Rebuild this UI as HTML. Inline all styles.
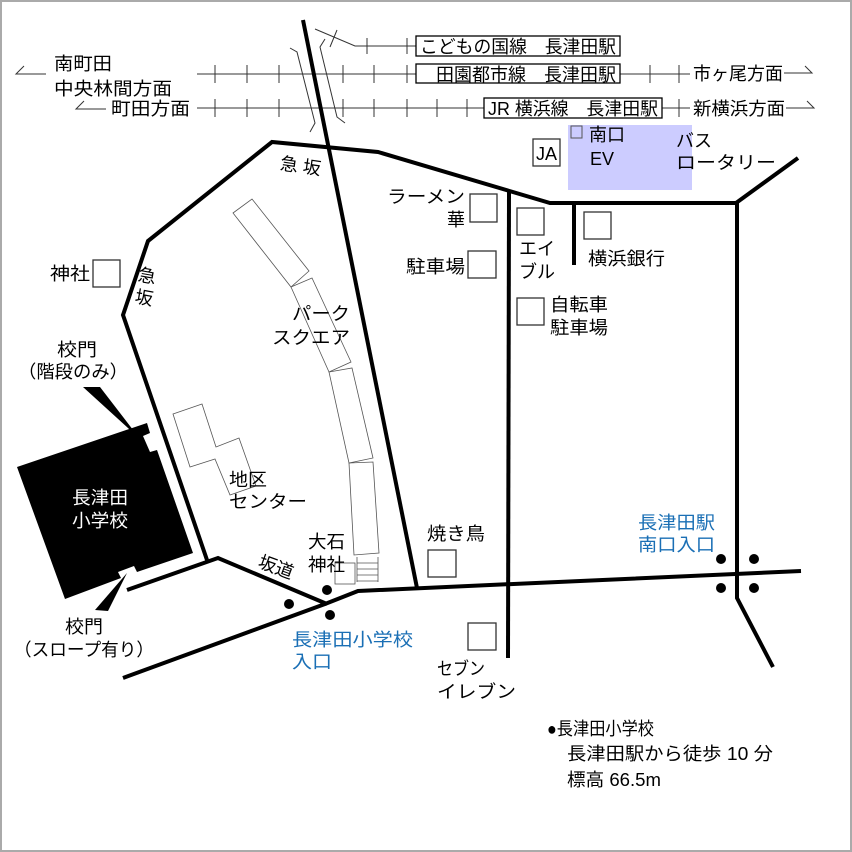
<!DOCTYPE html>
<html><head><meta charset="utf-8"><style>
html,body{margin:0;padding:0;background:#fff}
svg{display:block}
text{font-family:"Liberation Sans","Noto Sans CJK JP",sans-serif;font-size:18px;fill:#000}
.b{fill:#1a6fb5}
</style></head><body>
<svg width="852" height="852" viewBox="0 0 852 852" xmlns="http://www.w3.org/2000/svg">
<rect x="1" y="1" width="850" height="850" fill="#fff" stroke="#aaa" stroke-width="2"/>
<rect x="568" y="125" width="124" height="65" fill="#ccccff"/>
<rect x="571" y="126" width="11" height="12" fill="none" stroke="#555" stroke-width="1"/>

<g stroke="#333" stroke-width="1" fill="none">
<polyline points="315,29 355,46 416,46"/>
<line x1="197" y1="74" x2="416" y2="74"/>
<line x1="620" y1="74" x2="690" y2="74"/>
<line x1="197" y1="108" x2="484" y2="108"/>
<line x1="662" y1="108" x2="690" y2="108"/>
<path d="M367 38V54M407 38V54M337 30L330 47"/>
<path d="M215 65V83M247 65V83M279 65V83M343 65V83M374 65V83M407 65V83M650 65V83M679 65V83"/>
<path d="M215 99V117M247 99V117M279 99V117M343 99V117M374 99V117M407 99V117M437 99V117M467 99V117M679 99V117"/>
<polyline points="24,66 16,74 46,74"/>
<polyline points="84,101 76,109 106,109"/>
<polyline points="784,73 812,73 805,66"/>
<polyline points="786,108 814,108 807,101"/>
<polyline points="290,48 297,52 315,123 310,132"/>
<polyline points="325,39 320,47 337,117 345,123"/>
</g>
<g fill="#fff" stroke="#000" stroke-width="1.3">
<rect x="416" y="36" width="204" height="20"/>
<rect x="416" y="64" width="204" height="19"/>
<rect x="484" y="98" width="178" height="20"/>
</g>

<g fill="none" stroke="#555" stroke-width="0.8">
<polygon points="233,213 252,199 309,271 291,287"/>
<polygon points="291,287 312,278 351,362 329,372"/>
<polygon points="329,372 352,368 373,458 349,463"/>
<polygon points="349,463 373,462 379,553 354,555"/>
<path d="M357 557V582M378 557V582M357 563H378M357 569H378M357 575H378M357 581H378"/>
<polygon points="173,414 202,404 216,447 239,438 256,486 230,495 215,459 190,467"/>
<rect x="335" y="563" width="20" height="21"/>
</g>

<g fill="none" stroke="#000" stroke-width="4" stroke-linejoin="miter">
<line x1="303" y1="20" x2="417" y2="588"/>
<polyline points="207,560 123,315 148,241 272,142 378,152 550,203 736,203 798,158"/>
<polyline points="737,203 737,598 773,667"/>
<line x1="509" y1="192" x2="508" y2="658"/>
<line x1="574" y1="203" x2="574" y2="265"/>
<polyline points="127,590 218,558 327,604"/>
<polyline points="123,678 325,604 358,591 801,571"/>
</g>

<polygon points="17,467 147,423 150,433 143,436 150,452 157,450 193,553 137,572 134,566 118,572 121,578 65,599" fill="#000"/>
<polygon points="83,387 100,387 140,439" fill="#000"/>
<polygon points="95,610 108,611 127,573" fill="#000"/>

<g fill="#000">
<circle cx="289" cy="604" r="5"/><circle cx="327" cy="590" r="5"/><circle cx="330" cy="615" r="5"/>
<circle cx="721" cy="559" r="5"/><circle cx="754" cy="559" r="5"/><circle cx="721" cy="588" r="5"/><circle cx="754" cy="588" r="5"/>
</g>

<g fill="#fff" stroke="#333" stroke-width="1.3">
<rect x="93" y="260" width="27" height="27"/>
<rect x="470" y="194" width="27" height="28"/>
<rect x="468" y="251" width="28" height="27"/>
<rect x="517" y="208" width="27" height="27"/>
<rect x="584" y="212" width="27" height="27"/>
<rect x="517" y="298" width="27" height="27"/>
<rect x="533" y="139" width="27" height="27"/>
<rect x="428" y="550" width="28" height="27"/>
<rect x="468" y="623" width="28" height="27"/>
</g>

<text x="420" y="53" textLength="196" lengthAdjust="spacingAndGlyphs">こどもの国線　長津田駅</text>
<text x="436" y="81" textLength="180" lengthAdjust="spacingAndGlyphs">田園都市線　長津田駅</text>
<text x="488" y="115" textLength="170" lengthAdjust="spacingAndGlyphs">JR 横浜線　長津田駅</text>
<text x="54" y="70" textLength="58" lengthAdjust="spacingAndGlyphs">南町田</text>
<text x="54" y="95" textLength="118" lengthAdjust="spacingAndGlyphs">中央林間方面</text>
<text x="111" y="115" textLength="79" lengthAdjust="spacingAndGlyphs">町田方面</text>
<text x="693" y="80" textLength="90" lengthAdjust="spacingAndGlyphs">市ヶ尾方面</text>
<text x="693" y="115" textLength="92" lengthAdjust="spacingAndGlyphs">新横浜方面</text>
<text x="536" y="160" font-size="16">JA</text>
<text x="589" y="141">南口</text>
<text x="590" y="165">EV</text>
<text x="676" y="147">バス</text>
<text x="676" y="169" textLength="100" lengthAdjust="spacingAndGlyphs">ロータリー</text>
<text x="280" y="172" font-size="16" transform="rotate(8 298 166)">急 坂</text>
<text x="138" y="282" font-size="16" transform="rotate(10 146 276)">急</text>
<text x="135" y="304" font-size="16" transform="rotate(10 143 298)">坂</text>
<text x="50" y="280" textLength="40" lengthAdjust="spacingAndGlyphs">神社</text>
<text x="57" y="356" textLength="40" lengthAdjust="spacingAndGlyphs">校門</text>
<text x="18" y="378" textLength="110" lengthAdjust="spacingAndGlyphs">（階段のみ）</text>
<text x="72" y="504" style="fill:#fff" textLength="56" lengthAdjust="spacingAndGlyphs">長津田</text>
<text x="72" y="527" style="fill:#fff" textLength="56" lengthAdjust="spacingAndGlyphs">小学校</text>
<text x="65" y="633" textLength="38" lengthAdjust="spacingAndGlyphs">校門</text>
<text x="14" y="656" textLength="140" lengthAdjust="spacingAndGlyphs">（スロープ有り）</text>
<text x="292" y="320" textLength="58" lengthAdjust="spacingAndGlyphs">パーク</text>
<text x="272" y="344" textLength="78" lengthAdjust="spacingAndGlyphs">スクエア</text>
<text x="229" y="486" textLength="38" lengthAdjust="spacingAndGlyphs">地区</text>
<text x="229" y="508" textLength="78" lengthAdjust="spacingAndGlyphs">センター</text>
<text x="258" y="573" font-size="16" transform="rotate(20 275 567)">坂道</text>
<text x="308" y="548" textLength="37" lengthAdjust="spacingAndGlyphs">大石</text>
<text x="308" y="571" textLength="37" lengthAdjust="spacingAndGlyphs">神社</text>
<text x="292" y="646" class="b" textLength="121" lengthAdjust="spacingAndGlyphs">長津田小学校</text>
<text x="292" y="668" class="b" textLength="40" lengthAdjust="spacingAndGlyphs">入口</text>
<text x="437" y="675" textLength="48" lengthAdjust="spacingAndGlyphs">セブン</text>
<text x="437" y="698" textLength="79" lengthAdjust="spacingAndGlyphs">イレブン</text>
<text x="427" y="540" textLength="58" lengthAdjust="spacingAndGlyphs">焼き鳥</text>
<text x="387" y="203" textLength="78" lengthAdjust="spacingAndGlyphs">ラーメン</text>
<text x="447" y="226">華</text>
<text x="406" y="273" textLength="59" lengthAdjust="spacingAndGlyphs">駐車場</text>
<text x="519" y="255" textLength="36" lengthAdjust="spacingAndGlyphs">エイ</text>
<text x="519" y="278" textLength="36" lengthAdjust="spacingAndGlyphs">ブル</text>
<text x="588" y="265" textLength="77" lengthAdjust="spacingAndGlyphs">横浜銀行</text>
<text x="550" y="311" textLength="58" lengthAdjust="spacingAndGlyphs">自転車</text>
<text x="550" y="334" textLength="58" lengthAdjust="spacingAndGlyphs">駐車場</text>
<text x="638" y="529" class="b" textLength="77" lengthAdjust="spacingAndGlyphs">長津田駅</text>
<text x="638" y="551" class="b" textLength="77" lengthAdjust="spacingAndGlyphs">南口入口</text>
<text x="547" y="735" textLength="107" lengthAdjust="spacingAndGlyphs">●長津田小学校</text>
<text x="567" y="760" textLength="206" lengthAdjust="spacingAndGlyphs">長津田駅から徒歩 10 分</text>
<text x="567" y="786" textLength="94" lengthAdjust="spacingAndGlyphs">標高 66.5m</text>
</svg>
</body></html>
